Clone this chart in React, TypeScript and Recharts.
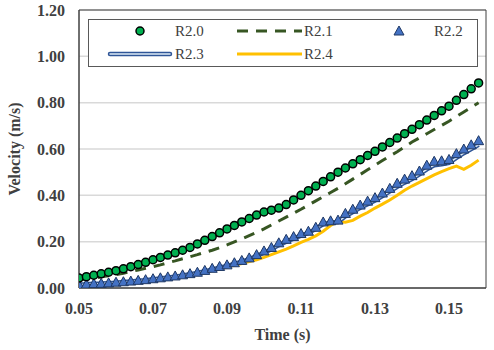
import {
  LineChart,
  Line,
  XAxis,
  YAxis,
  CartesianGrid,
  Legend,
  ReferenceArea,
} from "recharts";

const times = [
  0.05, 0.052, 0.054, 0.056, 0.058, 0.06, 0.062, 0.064, 0.066, 0.068, 0.07,
  0.072, 0.074, 0.076, 0.078, 0.08, 0.082, 0.084, 0.086, 0.088, 0.09, 0.092,
  0.094, 0.096, 0.098, 0.1, 0.102, 0.104, 0.106, 0.108, 0.11, 0.112, 0.114,
  0.116, 0.118, 0.12, 0.122, 0.124, 0.126, 0.128, 0.13, 0.132, 0.134, 0.136,
  0.138, 0.14, 0.142, 0.144, 0.146, 0.148, 0.15, 0.152, 0.154, 0.156, 0.158,
];

const r20 = [
  0.043, 0.049, 0.055, 0.061, 0.068, 0.075, 0.083, 0.092, 0.101, 0.111, 0.122,
  0.132, 0.142, 0.152, 0.163, 0.175, 0.19, 0.206, 0.222, 0.238, 0.255, 0.27,
  0.285, 0.3, 0.315, 0.328, 0.336, 0.345, 0.36, 0.38, 0.4, 0.42, 0.44, 0.46,
  0.48, 0.5, 0.518, 0.536, 0.554, 0.572, 0.59, 0.609, 0.628, 0.647, 0.666,
  0.685, 0.705, 0.725, 0.745, 0.765, 0.785, 0.81, 0.835, 0.86, 0.885,
];

const r21 = [
  0.035, 0.039, 0.043, 0.048, 0.053, 0.058, 0.064, 0.071, 0.078, 0.085, 0.092,
  0.1, 0.109, 0.117, 0.126, 0.135, 0.144, 0.154, 0.163, 0.174, 0.186, 0.199,
  0.212, 0.226, 0.24, 0.255, 0.272, 0.289, 0.306, 0.323, 0.34, 0.358, 0.376,
  0.394, 0.412, 0.43, 0.45, 0.47, 0.49, 0.51, 0.53, 0.55, 0.57, 0.588, 0.609,
  0.63, 0.648, 0.666, 0.684, 0.702, 0.72, 0.74, 0.76, 0.78, 0.8,
];

const r22 = [
  0.015, 0.017, 0.019, 0.02, 0.022, 0.025, 0.027, 0.03, 0.033, 0.036, 0.04,
  0.044, 0.048, 0.052, 0.057, 0.062, 0.068, 0.076, 0.085, 0.093, 0.1, 0.109,
  0.119, 0.13, 0.144, 0.16, 0.175, 0.195, 0.21, 0.222, 0.235, 0.245, 0.262,
  0.285, 0.29, 0.293, 0.322, 0.34, 0.358, 0.375, 0.39, 0.41, 0.43, 0.452, 0.47,
  0.485, 0.505, 0.53, 0.547, 0.549, 0.555, 0.58, 0.6, 0.618, 0.636,
];

const r23 = [
  0.015, 0.016, 0.018, 0.019, 0.021, 0.023, 0.026, 0.028, 0.031, 0.034, 0.038,
  0.041, 0.045, 0.049, 0.054, 0.059, 0.065, 0.072, 0.08, 0.088, 0.095, 0.104,
  0.114, 0.125, 0.138, 0.152, 0.167, 0.185, 0.2, 0.213, 0.226, 0.238, 0.255,
  0.276, 0.282, 0.285, 0.31, 0.328, 0.346, 0.362, 0.378, 0.397, 0.417, 0.437,
  0.455, 0.47, 0.49, 0.512, 0.53, 0.534, 0.54, 0.562, 0.582, 0.6, 0.618,
];

const r24 = [
  0.012, 0.014, 0.016, 0.018, 0.02, 0.022, 0.024, 0.027, 0.03, 0.033, 0.036,
  0.04, 0.044, 0.048, 0.052, 0.057, 0.062, 0.068, 0.075, 0.082, 0.09, 0.098,
  0.106, 0.114, 0.122, 0.132, 0.144, 0.156, 0.168, 0.182, 0.197, 0.21, 0.225,
  0.245, 0.27, 0.287, 0.284, 0.292, 0.31, 0.326, 0.345, 0.362, 0.38, 0.4,
  0.422, 0.44, 0.456, 0.472, 0.488, 0.502, 0.515, 0.526, 0.512, 0.53, 0.552,
];

const xTicks = [0.05, 0.07, 0.09, 0.11, 0.13, 0.15];
const yTicks = [0, 0.2, 0.4, 0.6, 0.8, 1.0, 1.2];

const data = times.map((t, i) => ({
  t,
  r20: r20[i],
  r21: r21[i],
  r22: r22[i],
  r23: r23[i],
  r24: r24[i],
}));

const FONT = "'Liberation Serif', 'Times New Roman', serif";
const GREEN = "#00B050";
const DARK_GREEN = "#375623";
const BLUE = "#4472C4";
const BLUE_EDGE = "#2F5597";
const BLUE_LIGHT = "#DEEBF7";
const YELLOW = "#FFC000";

const triPath = (cx: number, cy: number) =>
  `M${cx},${cy - 5} L${cx + 5},${cy + 4} L${cx - 5},${cy + 4} Z`;

const TriangleDot = (props: any) => {
  const { cx, cy, index } = props;
  if (cx == null || cy == null) return <g key={`tri-${index}`} />;
  return (
    <path
      key={`tri-${index}`}
      d={triPath(cx, cy)}
      fill={BLUE}
      stroke="#1F3864"
      strokeWidth={1}
    />
  );
};

const LegendBox = () => {
  const txt = {
    fontFamily: FONT,
    fontSize: 15,
    fill: "#404040",
    dominantBaseline: "central" as const,
  };
  return (
    <svg width={390} height={48} style={{ display: "block" }}>
      <rect x={0.5} y={0.5} width={389} height={47} fill="#fff" stroke="#595959" />
      {/* row 1 */}
      <circle cx={52} cy={12} r={4} fill={GREEN} stroke="#000" strokeWidth={1.5} />
      <text x={87} y={12} {...txt}>R2.0</text>
      <line x1={149} y1={12} x2={214} y2={12} stroke={DARK_GREEN} strokeWidth={3} strokeDasharray="11 8" />
      <text x={216} y={12} {...txt}>R2.1</text>
      <path d={triPath(311, 12)} fill={BLUE} stroke="#1F3864" strokeWidth={1} />
      <text x={346} y={12} {...txt}>R2.2</text>
      {/* row 2 */}
      <line x1={22} y1={35} x2={82} y2={35} stroke={BLUE_EDGE} strokeWidth={4.5} strokeLinecap="round" />
      <line x1={22} y1={35} x2={82} y2={35} stroke={BLUE_LIGHT} strokeWidth={1.5} strokeLinecap="round" />
      <text x={87} y={35} {...txt}>R2.3</text>
      <line x1={149} y1={35} x2={214} y2={35} stroke={YELLOW} strokeWidth={3} />
      <text x={216} y={35} {...txt}>R2.4</text>
    </svg>
  );
};

const tickStyle = {
  fontFamily: FONT,
  fontSize: 16,
  fontWeight: 700,
  fill: "#404040",
};

export default function App() {
  return (
    <div style={{ position: "absolute", left: 0, top: 0, background: "#fff" }}>
      <LineChart
        width={494}
        height={350}
        data={data}
        margin={{ top: 10, right: 8, bottom: 0, left: 0 }}
      >
        <CartesianGrid horizontal vertical={false} stroke="#D9D9D9" strokeWidth={1.5} />
        <XAxis
          dataKey="t"
          type="number"
          domain={[0.05, 0.16]}
          ticks={xTicks}
          tickFormatter={(v: number) => v.toFixed(2)}
          tick={tickStyle}
          tickLine={false}
          tickSize={0}
          tickMargin={15}
          axisLine={{ stroke: "#404040" }}
          height={62}
          allowDataOverflow
          label={{
            value: "Time (s)",
            position: "insideBottom",
            offset: 10,
            style: tickStyle,
          }}
        />
        <YAxis
          type="number"
          domain={[0, 1.2]}
          ticks={yTicks}
          tickFormatter={(v: number) => v.toFixed(2)}
          tick={tickStyle}
          tickLine={false}
          tickSize={0}
          tickMargin={14}
          axisLine={{ stroke: "#404040" }}
          width={79}
          allowDataOverflow
          label={{
            value: "Velocity (m/s)",
            angle: -90,
            position: "insideLeft",
            offset: 14,
            style: { ...tickStyle, textAnchor: "middle" },
          }}
        />
        <ReferenceArea
          x1={0.05}
          x2={0.16}
          y1={0}
          y2={1.2}
          fill="none"
          stroke="#404040"
          strokeWidth={1}
          ifOverflow="visible"
        />
        <Line
          dataKey="r24"
          stroke={YELLOW}
          strokeWidth={3}
          dot={false}
          isAnimationActive={false}
        />
        <Line
          dataKey="r23"
          stroke={BLUE_EDGE}
          strokeWidth={4.5}
          dot={false}
          isAnimationActive={false}
        />
        <Line
          dataKey="r23"
          stroke={BLUE_LIGHT}
          strokeWidth={1.5}
          dot={false}
          legendType="none"
          isAnimationActive={false}
        />
        <Line
          dataKey="r22"
          stroke="none"
          dot={TriangleDot}
          isAnimationActive={false}
        />
        <Line
          dataKey="r21"
          stroke={DARK_GREEN}
          strokeWidth={3}
          strokeDasharray="11 8"
          dot={false}
          isAnimationActive={false}
        />
        <Line
          dataKey="r20"
          stroke="none"
          dot={{ r: 4, fill: GREEN, stroke: "#000", strokeWidth: 1.5 }}
          isAnimationActive={false}
        />
        <Legend
          layout="vertical"
          align="center"
          verticalAlign="middle"
          content={() => <LegendBox />}
          wrapperStyle={{ top: 19, left: 88, width: 390, height: 48 }}
        />
      </LineChart>
    </div>
  );
}
